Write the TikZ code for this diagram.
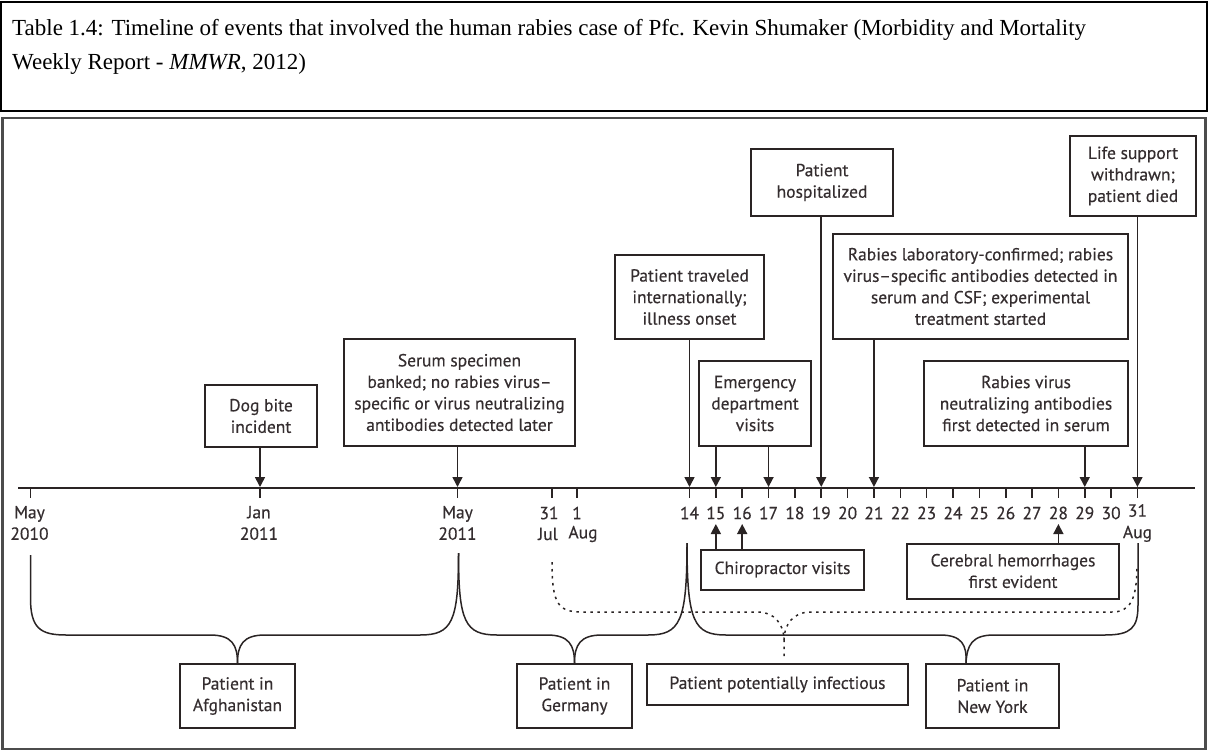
\documentclass[tikz,border=0pt]{standalone}
\usepackage{fontspec}
\setmainfont{Liberation Serif}
\newfontfamily\figfont[FakeBold=0.4]{PT Sans}
\usetikzlibrary{arrows.meta,calc}
\definecolor{ink}{RGB}{42,36,36}
\definecolor{txt}{RGB}{52,45,47}
\newcommand\figfnt{\figfont\fontsize{17.5}{21.5}\selectfont}
\begin{document}
\begin{tikzpicture}[x=1pt,y=-1pt,
  capline/.style={draw=black, line width=1.5pt},
  captext/.style={inner sep=0pt, font=\fontsize{23}{34}\selectfont, text=black},
  frame/.style={draw=black!70, line width=2.5pt},
  box/.style={draw=ink, line width=2pt, inner sep=0pt, align=center, text=txt, font=\figfnt},
  lbl/.style={inner sep=0pt, align=center, text=txt, font=\figfnt},
  axisline/.style={draw=ink, line width=2pt},
  tickmark/.style={draw=ink, line width=1.6pt},
  conn/.style={draw=ink, line width=1.6pt, -{Triangle[length=10pt,width=10pt]}, shorten >=1pt},
  brace/.style={draw=ink, line width=1.5pt},
  dotbrace/.style={draw=ink, line width=1.5pt, dash pattern=on 2.5pt off 4.5pt}
]
\useasboundingbox (0,0) rectangle (1208,752);

% caption
\draw[capline] (1,2) rectangle (1207,111);
\node[captext, anchor=base west] (cap1) at (12,36) {Table 1.4: Timeline of events that involved the human rabies case of Pfc. Kevin Shumaker (Morbidity and Mortality};
\node[captext, anchor=base west] (cap2) at (12,70) {Weekly Report - \textit{MMWR}, 2012)};

% figure frame
\draw[frame] (2.5,118) rectangle (1205.5,749);

% axis and ticks
\coordinate (axL) at (18,488);
\coordinate (axR) at (1195,488);
\draw[axisline] (axL) -- (axR);
\coordinate (tMay10) at (30.5,488);
\coordinate (tJan) at (260,488);
\coordinate (tMay11) at (457.5,488);
\coordinate (tJul31) at (552,488);
\coordinate (tAug1) at (577,488);
\foreach \d in {14,...,31} {\coordinate (t\d) at ({689.5+26.35*(\d-14)},488);}
\foreach \c in {tMay10,tJan,tMay11,tJul31,tAug1,t14,t15,t16,t17,t18,t19,t20,t21,t22,t23,t24,t25,t26,t27,t28,t29,t30,t31}
  {\draw[tickmark] (\c) -- ++(0,10);}

% tick labels
\node[lbl] (lMay10) at ($(tMay10)+(-1,35)$) {May\\2010};
\node[lbl] (lJan) at ($(tJan)+(-1,35)$) {Jan\\2011};
\node[lbl] (lMay11) at ($(tMay11)+(0,35)$) {May\\2011};
\node[lbl] (lJul31a) at ($(tJul31)+(-3,25)$) {31};
\node[lbl] (lJul31b) at ($(tJul31)+(-4,46)$) {Jul};
\node[lbl] (lAug1a) at ($(tAug1)+(0,25)$) {1};
\node[lbl] (lAug1b) at ($(tAug1)+(6,46)$) {Aug};
\foreach \d in {14,...,30} {\node[lbl] (l\d) at ($(t\d)+(0,25)$) {\d};}
\node[lbl] (l31) at ($(t31)+(0,35)$) {31\\Aug};

% upper boxes
\node[box, minimum width=112pt, minimum height=62pt] (dog) at (261,416) {Dog bite\\incident};
\node[box, minimum width=231pt, minimum height=107pt] (serum) at (459.5,392.5) {Serum specimen\\banked; no rabies virus–\\specific or virus neutralizing\\antibodies detected later};
\node[box, minimum width=149pt, minimum height=84pt] (travel) at (689.5,297) {Patient traveled\\internationally;\\illness onset};
\node[box, minimum width=112pt, minimum height=85pt] (emerg) at (755,403.5) {Emergency\\department\\visits};
\node[box, minimum width=142pt, minimum height=67pt] (hosp) at (822,182.5) {Patient\\hospitalized};
\node[box, minimum width=295pt, minimum height=105pt] (lab) at (980.5,286.5) {Rabies laboratory-confirmed; rabies\\virus–specific antibodies detected in\\serum and CSF; experimental\\treatment started};
\node[box, minimum width=204pt, minimum height=85pt] (rvirus) at (1026,403.5) {Rabies virus\\neutralizing antibodies\\first detected in serum};
\node[box, minimum width=126pt, minimum height=80pt] (life) at (1133,176) {Life support\\withdrawn;\\patient died};

% lower boxes
\node[box, minimum width=163pt, minimum height=40pt] (chiro) at (782.5,569.5) {Chiropractor visits};
\node[box, minimum width=212pt, minimum height=55pt] (cereb) at (1013,571) {Cerebral hemorrhages\\first evident};
\node[box, minimum width=115pt, minimum height=64pt] (afg) at (237.5,696) {Patient in\\Afghanistan};
\node[box, minimum width=115pt, minimum height=64pt] (ger) at (574.5,696) {Patient in\\Germany};
\node[box, minimum width=261pt, minimum height=41pt] (infect) at (777.5,684.5) {Patient potentially infectious};
\node[box, minimum width=133pt, minimum height=64pt] (ny) at (992.5,696) {Patient in\\New York};

% downward connectors to the axis
\draw[conn] (tJan |- dog.south) -- (tJan);
\draw[conn] (tMay11 |- serum.south) -- (tMay11);
\draw[conn] (t14 |- travel.south) -- (t14);
\draw[conn] (t15 |- emerg.south) -- (t15);
\draw[conn] (t17 |- emerg.south) -- (t17);
\draw[conn] (t19 |- hosp.south) -- (t19);
\draw[conn] (t21 |- lab.south) -- (t21);
\draw[conn] (t29 |- rvirus.south) -- (t29);
\draw[conn] (t31 |- life.south) -- (t31);

% upward connectors
\coordinate (u15) at ($(t15)+(0,35)$);
\coordinate (u16) at ($(t16)+(0,35)$);
\coordinate (u28) at ($(t28)+(0,35)$);
\draw[conn] (u15 |- chiro.north) -- (u15);
\draw[conn] (u16 |- chiro.north) -- (u16);
\draw[conn] (u28 |- cereb.north) -- (u28);

% braces
\coordinate (bA) at (30.5,555);
\coordinate (bB) at (458.5,553);
\coordinate (bC) at (687,543);
\coordinate (bD) at (1138,543);
\coordinate (nycusp) at ($(ny.north west)+(41,0)$);
\draw[brace] (bA) -- (30.5,598) .. controls (30.5,628) and (40,635) .. (66,635) -- (210,635) .. controls (232,635) and (237.5,645) .. (afg.north);
\draw[brace] (afg.north) .. controls (237.5,645) and (243,635) .. (265,635) -- (420,635) .. controls (452,635) and (458.5,622) .. (bB);
\draw[brace] (bB) .. controls (458.5,622) and (465,635) .. (497,635) -- (547,635) .. controls (569,635) and (574.5,645) .. (ger.north);
\draw[brace] (ger.north) .. controls (574.5,645) and (580,635) .. (602,635) -- (648,635) .. controls (680,635) and (687,622) .. (bC);
\draw[brace] (bC) .. controls (687,622) and (694,635) .. (726,635) -- (940,635) .. controls (962,635) and (967,645) .. (nycusp);
\draw[brace] (nycusp) .. controls (967,645) and (972,635) .. (994,635) -- (1105,635) .. controls (1131,635) and (1138,628) .. (1138,605) -- (bD);

% dotted brace (potentially infectious)
\coordinate (dL) at (552,562);
\coordinate (dcusp) at (784,657);
\coordinate (dR) at (1137,565);
\draw[dotbrace] (dL) .. controls (552,604) and (558,612) .. (582,612) -- (758,612) .. controls (774,612) and (784,624) .. (784,640) -- (dcusp);
\draw[dotbrace] (784,640) .. controls (784,624) and (794,612) .. (810,612) -- (1112,612) .. controls (1130,612) and (1137,600) .. (dR);
\end{tikzpicture}
\end{document}
